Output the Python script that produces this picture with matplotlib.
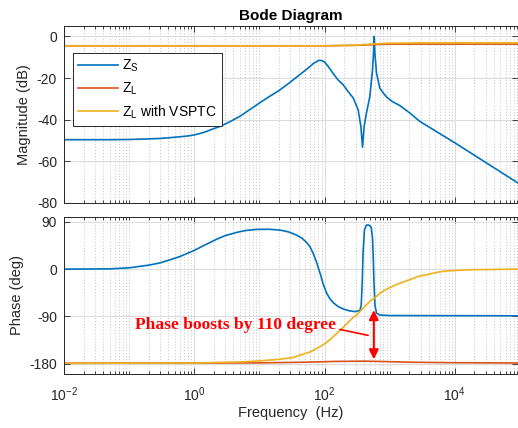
import numpy as np
import matplotlib
matplotlib.use('Agg')
import matplotlib.pyplot as plt
from matplotlib.ticker import FixedLocator, NullLocator, FixedFormatter, NullFormatter

plt.rcParams['font.family'] = ['Liberation Sans', 'DejaVu Sans']
plt.rcParams['mathtext.fontset'] = 'custom'
plt.rcParams['mathtext.rm'] = 'Liberation Sans'
plt.rcParams['mathtext.it'] = 'Liberation Sans:italic'
plt.rcParams['mathtext.bf'] = 'Liberation Sans:bold'

# ---------------- data ----------------
zs_mag_f = [0.01, 0.05, 0.1, 0.2, 0.3, 0.4, 0.6, 0.8, 1.0, 1.2, 1.5, 1.8, 2.5, 3.5, 5, 7,
            10, 14, 20, 28, 40, 50, 60, 68, 75, 80, 85, 92, 100, 115, 134, 160, 193, 230,
            275, 328, 361, 383, 405, 441, 496, 546, 565, 578, 592, 628, 706, 800, 895,
            1100, 1432, 2040, 2900, 10000, 100000]
zs_mag_db = [-49.6, -49.6, -49.5, -49.2, -49.0, -48.7, -48.2, -47.8, -47.3, -46.7, -45.8,
             -44.8, -43.2, -41.0, -38.4, -35.3, -32.0, -29.0, -26.0, -22.6, -18.8, -16.4,
             -14.4, -12.9, -12.2, -11.6, -11.5, -11.7, -12.3, -14.6, -17.6, -20.8, -23.2,
             -26.5, -29.5, -35.2, -43.2, -53.2, -43.2, -36.7, -28.8, -16.0, -8.0, 0.0,
             -8.0, -17.6, -24.8, -27.2, -29.1, -31.3, -33.2, -36.8, -40.8, -51.1, -71.0]

zl_mag_f = [0.01, 100, 300, 600, 1000, 100000]
zl_mag_db = [-4.5, -4.5, -4.3, -3.9, -3.7, -3.7]

zv_mag_f = [0.01, 100, 300, 600, 1000, 3000, 100000]
zv_mag_db = [-4.5, -4.5, -4.2, -3.6, -3.3, -3.1, -3.1]

zs_ph_f = [0.01, 0.05, 0.1, 0.21, 0.3, 0.42, 0.6, 0.96, 1.4, 2.2, 3.0, 4.47, 6.0, 9.0, 14,
           20.6, 28, 37, 45, 52, 59.6, 67, 75, 80, 87, 95, 107, 120, 136, 160, 193, 240,
           297, 348, 365, 378, 390, 410, 440, 480, 520, 545, 560, 575, 595, 630, 705,
           1000, 100000]
zs_ph_deg = [0, 0.5, 2.5, 8, 12, 17.6, 24, 34.7, 45, 57, 64, 70, 73.5, 75.8, 76, 74.5,
             71, 65, 59, 52, 43, 30, 14, 3, -11, -28, -45, -56, -64, -71, -76, -79.5,
             -81, -79, -70, -30, 30, 75, 84, 84, 80, 60, 20, -30, -70, -84, -87.5,
             -88.5, -89]

zl_ph_f = [0.01, 10, 50, 150, 400, 700, 2000, 10000, 100000]
zl_ph_deg = [-179.5, -178.8, -177.5, -176, -175.5, -176, -177.5, -178.5, -179]

zv_ph_f = [0.01, 1, 5, 10, 20, 33, 42, 60, 85, 107, 130, 172, 220, 276, 310, 360, 440,
           500, 590, 705, 850, 1130, 1430, 1700, 2040, 2900, 3600, 5900, 7500, 10000,
           20000, 100000]
zv_ph_deg = [-179.5, -179, -177, -175, -172, -168.5, -164, -158, -148, -140, -131, -117,
             -104, -92, -88, -79, -68, -61, -55, -46, -40, -32, -27, -23.5, -20, -13,
             -11, -5, -3.5, -2.5, -1, 0]

series_labels = [r'$\mathregular{Z_S}$', r'$\mathregular{Z_L}$', r'$\mathregular{Z_L}$ with VSPTC']
xtick_vals = [1e-2, 1e0, 1e2, 1e4]
xtick_labels = [r'$\mathregular{10^{-2}}$', r'$\mathregular{10^{0}}$',
                r'$\mathregular{10^{2}}$', r'$\mathregular{10^{4}}$']
mag_ticks = [-80, -60, -40, -20, 0]
ph_ticks = [-180, -90, 0, 90]

# ---------------- style ----------------
c_blue = '#0072BD'
c_red = '#D95319'
c_yel = '#EDB120'
axc = '#262626'

fig = plt.figure(figsize=(5.18, 4.28), dpi=100)
ax1 = fig.add_axes([64/518, 1-203/428, (518-64)/518, 177/428])
ax2 = fig.add_axes([64/518, 1-374/428, (518-64)/518, 157.3/428])

minor = []
for k in range(-2, 5):
    for m in range(1, 10):
        v = m * 10.0**k
        if v not in xtick_vals:
            minor.append(v)

xlim = (1e-2, 10**4.97)
for ax in (ax1, ax2):
    ax.set_xscale('log')
    ax.set_xlim(*xlim)
    ax.xaxis.set_major_locator(FixedLocator(xtick_vals))
    ax.xaxis.set_minor_locator(FixedLocator(minor))
    ax.xaxis.set_minor_formatter(NullFormatter())
    ax.yaxis.set_minor_locator(NullLocator())
    ax.grid(True, which='major', color='#dcdcdc', lw=0.8, ls='-')
    ax.grid(True, which='minor', axis='x', color='#c4c4c4', lw=0.7, ls=(0, (1, 2)))
    ax.set_axisbelow(True)
    ax.tick_params(which='both', direction='in', top=True, right=True,
                   colors=axc, labelsize=10, width=0.6)
    ax.tick_params(which='major', length=4)
    ax.tick_params(which='minor', length=2.2)
    for s in ax.spines.values():
        s.set_color(axc)
        s.set_linewidth(0.7)

lw = 1.2
ax1.plot(zs_mag_f, zs_mag_db, color=c_blue, lw=lw, label=series_labels[0])
ax1.plot(zl_mag_f, zl_mag_db, color=c_red, lw=lw, label=series_labels[1])
ax1.plot(zv_mag_f, zv_mag_db, color=c_yel, lw=lw, label=series_labels[2])
ax1.set_ylim(-80, 5)
ax1.set_yticks(mag_ticks)
ax1.set_yticklabels([str(t) for t in mag_ticks])
ax1.xaxis.set_major_formatter(NullFormatter())
ax1.set_ylabel('Magnitude (dB)', fontsize=10.5, color=axc)
ax1.yaxis.set_label_coords(-0.072, 0.5)
ax1.tick_params(axis='y', pad=5)

leg = ax1.legend(loc='upper left', bbox_to_anchor=(0.0198, 0.847), borderaxespad=0,
                 fancybox=False, edgecolor=axc, fontsize=10, handlelength=2.9,
                 handletextpad=0.3, labelspacing=0.45, borderpad=0.35, framealpha=1)
leg.get_frame().set_linewidth(0.7)

ax2.plot(zs_ph_f, zs_ph_deg, color=c_blue, lw=lw)
ax2.plot(zl_ph_f, zl_ph_deg, color=c_red, lw=lw)
ax2.plot(zv_ph_f, zv_ph_deg, color=c_yel, lw=lw)
ax2.set_ylim(-200, 100)
ax2.set_yticks(ph_ticks)
ax2.set_yticklabels([str(t) for t in ph_ticks])
ax2.xaxis.set_major_formatter(FixedFormatter(xtick_labels))
ax2.tick_params(axis='x', pad=8.5)
ax2.tick_params(axis='y', pad=5)
ax2.set_ylabel('Phase (deg)', fontsize=10.5, color=axc)
ax2.yaxis.set_label_coords(-0.088, 0.5)
ax2.set_xlabel('Frequency  (Hz)', fontsize=10.5, color=axc)
ax2.xaxis.set_label_coords(0.5, -0.205)

# annotation
ax2.text(0.123, -115, 'Phase boosts by 110 degree', color='red', fontsize=12.6,
         fontweight='bold', family=['Liberation Serif', 'DejaVu Serif'],
         ha='left', va='baseline')
ax2.annotate('', xy=(467, -126.4), xytext=(172, -115),
             arrowprops=dict(arrowstyle='-', color='red', lw=1.2, shrinkA=0, shrinkB=0))
ax2.annotate('', xy=(571, -78), xytext=(571, -172),
             arrowprops=dict(arrowstyle='<|-|>', color='red', lw=1.5,
                             mutation_scale=14, shrinkA=0, shrinkB=0))

fig.text(291/518, 1-16/428, 'Bode Diagram', ha='center', va='center',
         fontsize=11, fontweight='bold', color='black')

fig.savefig('out.png', dpi=100)
